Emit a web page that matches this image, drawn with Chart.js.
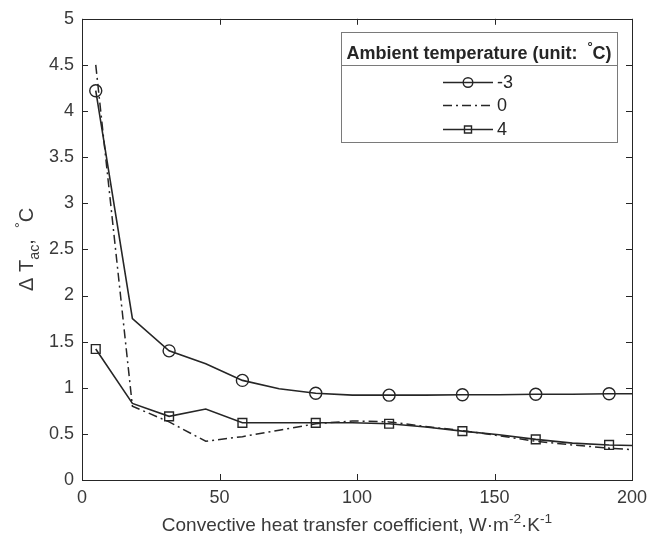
<!DOCTYPE html>
<html>
<head>
<meta charset="utf-8">
<script src="https://cdn.jsdelivr.net/npm/chart.js@4/dist/chart.umd.min.js"></script>
<style>
  html, body { margin: 0; padding: 0; background: #fff; }
  #wrap { width: 662px; height: 541px; }
</style>
</head>
<body>
<div id="wrap"><canvas id="chart" width="662" height="541"></canvas></div>
<script>
// --- datos ---
const hValues = [5, 18.33, 31.67, 45, 58.33, 71.67, 85, 98.33, 111.67, 125, 138.33, 151.67, 165, 178.33, 191.67, 205];
const tempMinus3 = [4.22, 1.75, 1.40, 1.26, 1.08, 0.99, 0.94, 0.92, 0.92, 0.92, 0.925, 0.925, 0.93, 0.93, 0.935, 0.935];
const temp0 = [4.50, 0.80, 0.63, 0.42, 0.47, 0.54, 0.61, 0.64, 0.63, 0.58, 0.535, 0.48, 0.42, 0.38, 0.345, 0.32];
const temp4 = [1.42, 0.83, 0.69, 0.77, 0.62, 0.62, 0.62, 0.62, 0.61, 0.575, 0.53, 0.49, 0.44, 0.40, 0.38, 0.37];
const seriesLabels = ['-3', '0', '4'];
const xTicks = [0, 50, 100, 150, 200];
const yTicks = [0, 0.5, 1, 1.5, 2, 2.5, 3, 3.5, 4, 4.5, 5];

const INK = '#262626';
const TEXT = '#3a3a3a';
const FONT = '"Liberation Sans", Arial, Helvetica, sans-serif';

// marcadores solo cada dos puntos
const markerRadius = (r) => hValues.map((_, i) => (i % 2 === 0 ? r : 0));
const toPoints = (ys) => hValues.map((x, i) => ({ x: x, y: ys[i] }));

const datasets = [
  { label: seriesLabels[0], data: toPoints(tempMinus3), borderColor: INK, borderWidth: 1.6,
    pointStyle: 'circle', pointRadius: markerRadius(6), pointBorderWidth: 1.4,
    pointBorderColor: INK, pointBackgroundColor: 'rgba(0,0,0,0)', tension: 0 },
  { label: seriesLabels[1], data: toPoints(temp0), borderColor: INK, borderWidth: 1.5,
    borderDash: [9, 4, 2, 4], pointRadius: 0, tension: 0 },
  { label: seriesLabels[2], data: toPoints(temp4), borderColor: INK, borderWidth: 1.6,
    pointStyle: 'rect', pointRadius: markerRadius(6.2), pointBorderWidth: 1.4,
    pointBorderColor: INK, pointBackgroundColor: 'rgba(0,0,0,0)', tension: 0 }
];

// texto con sub/superíndices
function drawRich(ctx, parts, x, y, size) {
  let w = 0;
  parts.forEach(p => {
    ctx.font = (p.bold ? 'bold ' : '') + (p.s ? size * 0.72 : size) + 'px ' + FONT;
    p.w = ctx.measureText(p.t).width;
    w += p.w;
  });
  let cx = x - w / 2;
  parts.forEach(p => {
    ctx.font = (p.bold ? 'bold ' : '') + (p.s ? size * 0.72 : size) + 'px ' + FONT;
    const dy = p.s === 'sup' ? -size * 0.42 : (p.s === 'sub' ? size * 0.3 : 0);
    ctx.fillText(p.t, cx, y + dy);
    cx += p.w;
  });
}

const frame = {
  id: 'frame',
  afterDraw(chart) {
    const { ctx, chartArea: a, scales } = chart;
    ctx.save();
    // caja y marcas hacia adentro (estilo MATLAB)
    ctx.strokeStyle = INK;
    ctx.lineWidth = 1;
    ctx.strokeRect(Math.round(a.left) + 0.5, Math.round(a.top) + 0.5,
                   Math.round(a.right - a.left), Math.round(a.bottom - a.top));
    const tl = 6;
    ctx.beginPath();
    xTicks.forEach(v => {
      const px = Math.round(scales.x.getPixelForValue(v)) + 0.5;
      ctx.moveTo(px, a.bottom); ctx.lineTo(px, a.bottom - tl);
      ctx.moveTo(px, a.top); ctx.lineTo(px, a.top + tl);
    });
    yTicks.forEach(v => {
      const py = Math.round(scales.y.getPixelForValue(v)) + 0.5;
      ctx.moveTo(a.left, py); ctx.lineTo(a.left + tl, py);
      ctx.moveTo(a.right, py); ctx.lineTo(a.right - tl, py);
    });
    ctx.stroke();

    // títulos de ejes
    ctx.fillStyle = TEXT;
    ctx.textBaseline = 'alphabetic';
    ctx.textAlign = 'left';
    drawRich(ctx, [
      { t: 'Convective heat transfer coefficient, W\u00B7m' },
      { t: '-2', s: 'sup' }, { t: '\u00B7K' }, { t: '-1', s: 'sup' }
    ], (a.left + a.right) / 2, 531, 19);

    ctx.save();
    ctx.translate(33, (a.top + a.bottom) / 2);
    ctx.rotate(-Math.PI / 2);
    drawRich(ctx, [
      { t: '\u0394 T' }, { t: 'ac', s: 'sub' }, { t: ',  ' }, { t: '\u00B0', s: 'sup' }, { t: 'C' }
    ], 0, 0, 20);
    ctx.restore();

    // leyenda
    const L = { left: 341, top: 32, right: 617, bottom: 142, sep: 65 };
    ctx.fillStyle = '#fff';
    ctx.fillRect(L.left, L.top, L.right - L.left, L.bottom - L.top);
    ctx.strokeStyle = '#7a7a7a';
    ctx.lineWidth = 1;
    ctx.strokeRect(L.left + 0.5, L.top + 0.5, L.right - L.left, L.bottom - L.top);
    ctx.beginPath();
    ctx.moveTo(L.left, L.sep + 0.5); ctx.lineTo(L.right, L.sep + 0.5);
    ctx.stroke();

    ctx.fillStyle = INK;
    drawRich(ctx, [
      { t: 'Ambient temperature (unit:  ', bold: true }, { t: '\u00B0', s: 'sup', bold: true }, { t: 'C)', bold: true }
    ], (L.left + L.right) / 2, 59, 18);

    const rows = [82, 105, 129];
    chart.data.datasets.forEach((ds, i) => {
      const y = rows[i] + 0.5;
      ctx.save();
      ctx.strokeStyle = ds.borderColor;
      ctx.lineWidth = ds.borderWidth;
      ctx.setLineDash(ds.borderDash || []);
      ctx.beginPath();
      ctx.moveTo(443, y); ctx.lineTo(493, y);
      ctx.stroke();
      ctx.setLineDash([]);
      const r = Array.isArray(ds.pointRadius) ? ds.pointRadius[0] : ds.pointRadius;
      if (r > 0) {
        ctx.fillStyle = 'rgba(0,0,0,0)';
        ctx.lineWidth = ds.pointBorderWidth;
        Chart.helpers.drawPoint(ctx, { pointStyle: ds.pointStyle, radius: r * 0.8, borderWidth: ds.pointBorderWidth }, 468, y);
      }
      ctx.restore();
      ctx.fillStyle = INK;
      ctx.font = '18px ' + FONT;
      ctx.textAlign = 'left';
      ctx.textBaseline = 'middle';
      ctx.fillText(ds.label, 497, y + 1);
    });
    ctx.restore();
  }
};

new Chart(document.getElementById('chart'), {
  type: 'line',
  data: { datasets: datasets },
  options: {
    responsive: false,
    animation: false,
    events: [],
    layout: { padding: { top: 17, right: 30, left: 0, bottom: 0 } },
    plugins: { legend: { display: false }, tooltip: { enabled: false } },
    scales: {
      x: {
        type: 'linear', min: 0, max: 200,
        afterFit: (s) => { s.height = 61; },
        afterBuildTicks: (s) => { s.ticks = xTicks.map(v => ({ value: v })); },
        grid: { display: false, drawTicks: false },
        border: { display: false },
        ticks: { padding: 7, color: TEXT, font: { family: FONT, size: 18 }, maxRotation: 0,
                 callback: (v) => String(v) }
      },
      y: {
        type: 'linear', min: 0, max: 5,
        afterFit: (s) => { s.width = 82; },
        afterBuildTicks: (s) => { s.ticks = yTicks.map(v => ({ value: v })); },
        grid: { display: false, drawTicks: false },
        border: { display: false },
        ticks: { padding: 8, color: TEXT, font: { family: FONT, size: 18 },
                 callback: (v) => String(v) }
      }
    }
  },
  plugins: [frame]
});
</script>
</body>
</html>
